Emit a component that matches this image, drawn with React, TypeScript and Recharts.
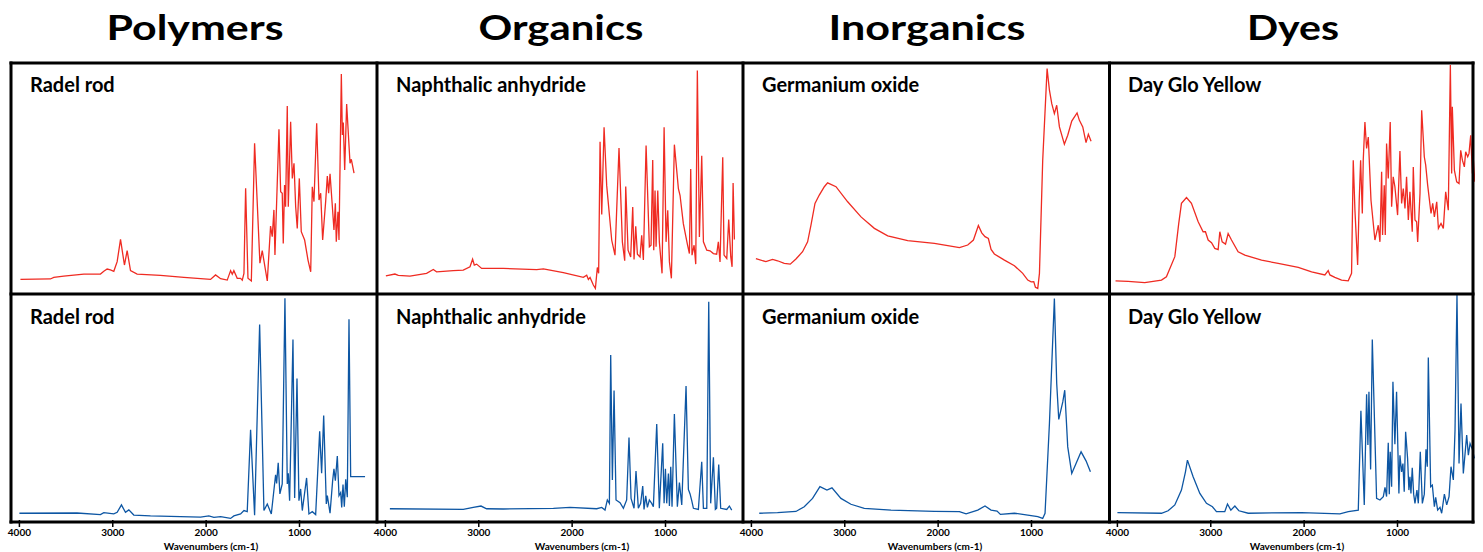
import React from 'react';
import { LineChart, Line, XAxis, YAxis } from 'recharts';

const columnTitles = ['Polymers', 'Organics', 'Inorganics', 'Dyes'];
const sampleNames = ['Radel rod', 'Naphthalic anhydride', 'Germanium oxide', 'Day Glo Yellow'];
const wavenumberTicks = [4000, 3000, 2000, 1000];
const axisTitle = 'Wavenumbers (cm-1)';

// [wavenumber, relative intensity 0-100]
const radelRodTop = [
  [3989, 4.7], [3668, 4.9], [3632, 5.6], [3525, 6.2], [3310, 7.1], [3132, 7.1], [3096, 8.3], [3060, 9.3],
  [3025, 8.9], [2989, 8.3], [2953, 12.6], [2917, 22.5], [2875, 11.1], [2846, 17.5], [2810, 8.6], [2739, 7.1],
  [2489, 6.5], [2238, 5.6], [1953, 4.7], [1899, 6.7], [1845, 5.0], [1774, 4.4], [1738, 8.6], [1720, 7.0],
  [1703, 8.6], [1667, 5.2], [1631, 5.2], [1613, 4.4], [1595, 7.4], [1577, 45.2], [1552, 5.2], [1516, 4.0],
  [1481, 65.2], [1424, 11.9], [1399, 17.5], [1345, 4.0], [1310, 28.4], [1292, 23.7], [1274, 35.6], [1263, 15.6],
  [1220, 71.4], [1202, 43.7], [1185, 43.0], [1174, 20.7], [1160, 46.7], [1149, 37.0], [1131, 81.8], [1120, 37.0],
  [1095, 74.8], [1077, 49.6], [1059, 56.3], [1041, 37.0], [1024, 27.4], [1002, 49.6], [981, 25.9], [945, 22.2],
  [909, 13.3], [880, 8.1], [863, 45.9], [845, 39.3], [816, 74.1], [791, 40.0], [773, 43.0], [752, 22.2],
  [720, 39.3], [702, 50.7], [688, 43.0], [673, 51.6], [648, 37.0], [631, 26.7], [616, 38.5], [606, 21.5],
  [588, 34.8], [577, 22.2], [552, 96.0], [541, 68.9], [531, 74.4], [516, 53.3], [495, 82.7], [459, 56.3],
  [445, 58.1], [416, 51.9],
];

const radelRodBottom = [
  [4000, 3.0], [3382, 3.1], [3132, 2.4], [3096, 3.3], [2989, 2.7], [2953, 3.4], [2907, 6.7], [2864, 3.4],
  [2828, 4.5], [2775, 2.2], [2596, 1.8], [2060, 1.3], [1971, 1.8], [1917, 1.2], [1845, 1.5], [1738, 0.7],
  [1703, 1.8], [1631, 2.7], [1595, 4.2], [1560, 3.7], [1524, 40.1], [1481, 2.1], [1427, 86.9], [1381, 4.2],
  [1345, 7.1], [1302, 2.7], [1256, 20.1], [1245, 16.3], [1228, 25.4], [1210, 11.6], [1185, 16.0], [1156, 98.5],
  [1131, 16.0], [1120, 20.8], [1106, 8.6], [1070, 80.2], [1052, 9.8], [1027, 62.9], [1006, 8.6], [988, 13.8],
  [970, 4.2], [924, 18.7], [899, 2.7], [863, 3.7], [827, 2.4], [784, 39.4], [763, 20.8], [741, 46.4],
  [713, 7.1], [702, 10.8], [673, 3.0], [645, 17.5], [631, 22.7], [616, 17.5], [595, 28.4], [577, 10.8],
  [559, 12.2], [548, 5.6], [534, 15.8], [520, 5.9], [505, 18.1], [488, 10.1], [470, 89.2], [452, 19.3],
  [298, 19.3],
];

const naphthalicTop = [
  [3995, 6.3], [3898, 7.1], [3862, 6.5], [3737, 6.2], [3559, 7.4], [3487, 9.1], [3452, 8.1], [3273, 8.6],
  [3166, 8.8], [3094, 10.3], [3066, 13.7], [3048, 11.1], [3023, 11.5], [2969, 9.6], [2737, 9.6], [2380, 9.1],
  [2308, 9.4], [2094, 7.7], [1880, 5.6], [1844, 6.6], [1826, 4.7], [1808, 5.6], [1773, 2.2], [1751, 0.7],
  [1730, 10.0], [1716, 7.4], [1701, 65.9], [1683, 33.6], [1658, 72.3], [1630, 46.5], [1576, 22.1], [1541, 15.5],
  [1498, 63.1], [1462, 21.4], [1437, 13.0], [1426, 46.0], [1401, 17.7], [1373, 14.7], [1351, 36.9], [1337, 13.6],
  [1319, 28.3], [1301, 15.9], [1273, 14.7], [1255, 24.3], [1237, 13.3], [1208, 64.2], [1173, 19.2], [1155, 19.9],
  [1137, 57.8], [1126, 17.7], [1112, 44.2], [1101, 19.2], [1083, 44.2], [1066, 21.4], [1037, 7.4], [1015, 72.3],
  [994, 21.4], [976, 35.4], [958, 12.5], [937, 5.2], [905, 64.6], [862, 45.0], [844, 42.0], [809, 29.5],
  [766, 20.4], [744, 16.2], [730, 53.8], [716, 15.5], [694, 19.9], [676, 11.5], [659, 97.6], [637, 23.6],
  [612, 59.7], [594, 21.4], [558, 17.7], [523, 17.4], [487, 16.2], [452, 15.9], [434, 21.4], [416, 12.5],
  [387, 59.0], [373, 15.5], [344, 14.0], [323, 31.3], [301, 14.7], [287, 10.3], [276, 47.5], [262, 22.4],
];

const naphthalicBottom = [
  [3952, 5.0], [3166, 4.7], [3059, 5.6], [2976, 6.2], [2916, 5.0], [2737, 4.9], [2201, 5.2], [2023, 5.6],
  [1737, 5.0], [1683, 5.6], [1648, 4.4], [1623, 8.9], [1601, 7.4], [1587, 73.3], [1569, 17.8], [1551, 57.5],
  [1530, 8.9], [1487, 7.7], [1451, 5.2], [1416, 8.9], [1391, 36.7], [1369, 9.6], [1337, 5.2], [1316, 21.8],
  [1291, 5.2], [1266, 7.4], [1244, 15.1], [1230, 4.7], [1212, 10.7], [1194, 5.6], [1173, 8.9], [1148, 7.4],
  [1130, 5.9], [1094, 42.7], [1066, 5.2], [1030, 34.1], [1015, 7.4], [1001, 22.8], [987, 7.4], [969, 20.7],
  [958, 6.2], [944, 23.7], [930, 5.9], [905, 47.1], [873, 5.9], [851, 16.6], [826, 6.7], [780, 59.6],
  [755, 13.6], [737, 11.6], [719, 8.6], [701, 5.2], [648, 4.7], [612, 25.9], [594, 5.2], [558, 5.2],
  [537, 97.0], [516, 7.4], [487, 27.9], [466, 4.7], [452, 5.2], [430, 24.6], [409, 5.2], [344, 4.7],
  [316, 6.2], [291, 4.4],
];

const germaniumTop = [
  [3952, 13.9], [3845, 12.6], [3773, 13.6], [3720, 13.0], [3648, 11.8], [3584, 11.5], [3523, 13.8], [3452, 17.0],
  [3398, 21.4], [3362, 28.8], [3319, 38.5], [3273, 42.2], [3219, 45.9], [3184, 47.6], [3094, 45.9], [2969, 39.2],
  [2826, 32.5], [2683, 27.4], [2540, 24.1], [2326, 21.9], [2040, 20.7], [1897, 19.7], [1772, 18.8], [1683, 20.0],
  [1622, 22.2], [1569, 28.7], [1533, 25.4], [1498, 23.7], [1462, 22.9], [1433, 18.0], [1398, 16.0], [1290, 13.3],
  [1183, 10.8], [1094, 7.4], [1040, 4.4], [1004, 3.6], [976, 3.7], [958, 1.2], [933, 0.7], [915, 7.4],
  [880, 57.7], [833, 98.4], [808, 88.8], [783, 82.8], [755, 78.4], [730, 82.1], [701, 72.5], [648, 64.8],
  [612, 68.8], [569, 75.1], [512, 78.7], [487, 75.4], [451, 72.5], [416, 65.5], [391, 69.2], [362, 66.1],
];

const germaniumBottom = [
  [3916, 3.0], [3720, 3.3], [3523, 3.8], [3434, 5.9], [3345, 9.6], [3266, 14.8], [3191, 13.3], [3137, 14.3],
  [3041, 9.6], [2934, 7.0], [2791, 5.2], [2505, 4.4], [2040, 3.8], [1772, 3.7], [1701, 2.7], [1576, 4.4],
  [1498, 6.2], [1433, 4.4], [1369, 4.0], [1333, 2.5], [1183, 3.0], [1040, 2.2], [933, 1.5], [880, 0.7],
  [855, 3.0], [808, 42.9], [755, 98.4], [730, 60.7], [708, 44.7], [665, 52.5], [644, 57.7], [612, 32.5],
  [569, 20.7], [523, 25.1], [469, 30.3], [416, 26.3], [369, 21.4],
];

const dayGloTop = [
  [4020, 4.1], [3886, 3.8], [3707, 3.3], [3528, 4.4], [3475, 5.9], [3385, 14.8], [3343, 29.6], [3314, 38.5],
  [3260, 41.1], [3207, 38.5], [3135, 30.3], [3082, 25.9], [3057, 25.9], [3028, 22.2], [2992, 21.0], [2957, 18.5],
  [2921, 18.0], [2903, 25.9], [2878, 21.4], [2842, 20.4], [2814, 25.1], [2778, 22.2], [2707, 17.0], [2635, 15.5],
  [2456, 13.3], [2278, 11.8], [2063, 10.1], [1920, 8.1], [1778, 6.7], [1742, 8.6], [1724, 6.7], [1671, 5.6],
  [1599, 4.4], [1528, 4.1], [1492, 7.4], [1474, 57.7], [1456, 35.5], [1427, 11.1], [1410, 39.9], [1395, 57.7],
  [1377, 34.0], [1367, 57.7], [1349, 74.7], [1331, 62.9], [1313, 68.0], [1284, 39.9], [1242, 22.2], [1206, 28.8],
  [1188, 21.4], [1170, 52.5], [1160, 24.4], [1142, 46.6], [1131, 24.4], [1117, 65.1], [1099, 49.6], [1078, 74.7],
  [1063, 37.0], [1046, 50.3], [1028, 45.9], [999, 33.3], [974, 61.8], [956, 38.5], [938, 45.1], [920, 36.2],
  [903, 50.3], [884, 31.1], [867, 43.6], [842, 25.9], [831, 54.7], [813, 31.1], [795, 30.3], [784, 21.4],
  [759, 42.9], [741, 79.9], [713, 59.2], [698, 55.5], [677, 46.6], [641, 34.0], [623, 38.5], [605, 32.5],
  [580, 39.2], [562, 27.4], [534, 29.6], [509, 27.4], [484, 43.6], [456, 35.5], [434, 100], [420, 51.8],
  [413, 81.4], [391, 53.3], [366, 48.1], [341, 47.3], [323, 62.1], [305, 57.7], [284, 54.7], [270, 61.4],
  [248, 59.2], [234, 60.7], [216, 68.8], [198, 51.8], [187, 57.7], [172, 48.1],
];

const dayGloBottom = [
  [4000, 3.3], [3528, 3.0], [3457, 4.1], [3385, 6.7], [3314, 13.3], [3271, 21.4], [3250, 26.6], [3189, 19.2],
  [3117, 11.8], [3046, 7.4], [2982, 5.9], [2939, 3.7], [2850, 3.7], [2821, 7.1], [2785, 4.4], [2742, 6.2],
  [2699, 4.1], [2599, 3.0], [2028, 3.3], [1617, 2.7], [1527, 3.7], [1420, 4.4], [1392, 48.5], [1356, 6.7],
  [1331, 55.9], [1317, 33.3], [1306, 57.0], [1288, 22.5], [1270, 80.2], [1224, 9.6], [1188, 8.9], [1152, 10.4],
  [1134, 14.5], [1117, 10.4], [1099, 34.3], [1088, 11.5], [1078, 30.3], [1063, 14.8], [1049, 61.4], [1028, 33.7],
  [1010, 57.0], [985, 11.8], [974, 28.8], [956, 21.4], [942, 25.1], [928, 12.6], [913, 39.2], [892, 27.4],
  [878, 13.3], [867, 19.2], [856, 11.8], [842, 23.2], [827, 11.5], [813, 7.4], [792, 13.3], [777, 7.4],
  [756, 30.3], [734, 7.4], [713, 11.5], [695, 31.4], [681, 23.7], [670, 72.2], [645, 14.8], [627, 15.5],
  [605, 5.9], [591, 10.1], [570, 4.4], [545, 5.6], [527, 3.0], [498, 11.5], [473, 6.7], [448, 10.4],
  [427, 23.7], [402, 17.8], [384, 39.9], [363, 100], [341, 25.1], [320, 51.8], [295, 20.7], [259, 37.7],
  [241, 28.8], [223, 34.0], [198, 31.4], [177, 27.4],
];

const topSpectra = [radelRodTop, naphthalicTop, germaniumTop, dayGloTop];
const bottomSpectra = [radelRodBottom, naphthalicBottom, germaniumBottom, dayGloBottom];

const RED = '#EF2B22';
const BLUE = '#0D56A3';
const FONT = 'Lato, "Open Sans", sans-serif';

const colLeft = [11, 377, 743, 1109];
const colWidth = 366;
const pad = 14;
const titleLengths = [177, 165, 197, 92];
const axisTitleShift = [17, 22, 9, 5];

const toRows = (pairs: number[][]) => pairs.map(([wn, v]) => ({ wn, v }));

type PanelProps = {
  pairs: number[][];
  color: string;
  left: number;
  top: number;
  plotHeight: number;
  showAxis: boolean;
  labelShift: number;
};

const Panel = ({ pairs, color, left, top, plotHeight, showAxis, labelShift }: PanelProps) => {
  const axisH = showAxis ? 32 : 0;
  return (
    <div style={{ position: 'absolute', left: left - pad, top }}>
      <LineChart
        width={colWidth + pad * 2}
        height={plotHeight + axisH}
        data={toRows(pairs)}
        margin={{ top: 0, right: pad, bottom: 0, left: pad }}
      >
        <XAxis
          type="number"
          dataKey="wn"
          domain={[170, 4090]}
          reversed
          allowDataOverflow
          ticks={wavenumberTicks}
          interval={0}
          hide={!showAxis}
          height={axisH}
          axisLine={false}
          tickLine={{ stroke: '#000', strokeWidth: 1.5 }}
          tickSize={7}
          tickMargin={2}
          tick={{ fontSize: 10, fontWeight: 700, fill: '#000', fontFamily: FONT }}
          label={
            showAxis
              ? {
                  value: axisTitle,
                  position: 'insideBottom',
                  offset: 2,
                  dx: labelShift,
                  style: { fontSize: 10, fontWeight: 700, fill: '#000', fontFamily: FONT },
                }
              : undefined
          }
        />
        <YAxis hide type="number" domain={[0, 100]} allowDataOverflow />
        <Line
          type="linear"
          dataKey="v"
          stroke={color}
          strokeWidth={1.3}
          dot={false}
          activeDot={false}
          isAnimationActive={false}
        />
      </LineChart>
    </div>
  );
};

const App = () => {
  const frameX = [11, 377, 743, 1109.5, 1473];
  const frameY = [63, 294, 522];
  return (
    <div
      style={{
        position: 'absolute',
        left: 0,
        top: 0,
        width: 1483,
        height: 552,
        background: '#fff',
        fontFamily: FONT,
        overflow: 'hidden',
      }}
    >
      {topSpectra.map((s, i) => (
        <Panel key={'t' + i} pairs={s} color={RED} left={colLeft[i]} top={65} plotHeight={225} showAxis={false} labelShift={0} />
      ))}
      {bottomSpectra.map((s, i) => (
        <Panel
          key={'b' + i}
          pairs={s}
          color={BLUE}
          left={colLeft[i]}
          top={295}
          plotHeight={225}
          showAxis
          labelShift={axisTitleShift[i]}
        />
      ))}
      <svg width={1483} height={552} style={{ position: 'absolute', left: 0, top: 0, pointerEvents: 'none' }}>
        {frameY.map((y) => (
          <line key={'h' + y} x1={9.5} x2={1474.5} y1={y} y2={y} stroke="#000" strokeWidth={3} />
        ))}
        {frameX.map((x) => (
          <line key={'v' + x} x1={x} x2={x} y1={61.5} y2={523.5} stroke="#000" strokeWidth={3} />
        ))}
        {columnTitles.map((t, i) => (
          <text
            key={t}
            x={colLeft[i] + colWidth / 2 + 1}
            y={40}
            textAnchor="middle"
            textLength={titleLengths[i]}
            lengthAdjust="spacingAndGlyphs"
            style={{ fontSize: 35, fontWeight: 700, fontFamily: FONT, fill: '#000' }}
          >
            {t}
          </text>
        ))}
        {sampleNames.map((n, i) => (
          <React.Fragment key={n}>
            <text x={colLeft[i] + 19} y={92} style={{ fontSize: 20, fontWeight: 700, fontFamily: FONT, fill: '#000' }}>
              {n}
            </text>
            <text x={colLeft[i] + 19} y={324} style={{ fontSize: 20, fontWeight: 700, fontFamily: FONT, fill: '#000' }}>
              {n}
            </text>
          </React.Fragment>
        ))}
      </svg>
    </div>
  );
};

export default App;
